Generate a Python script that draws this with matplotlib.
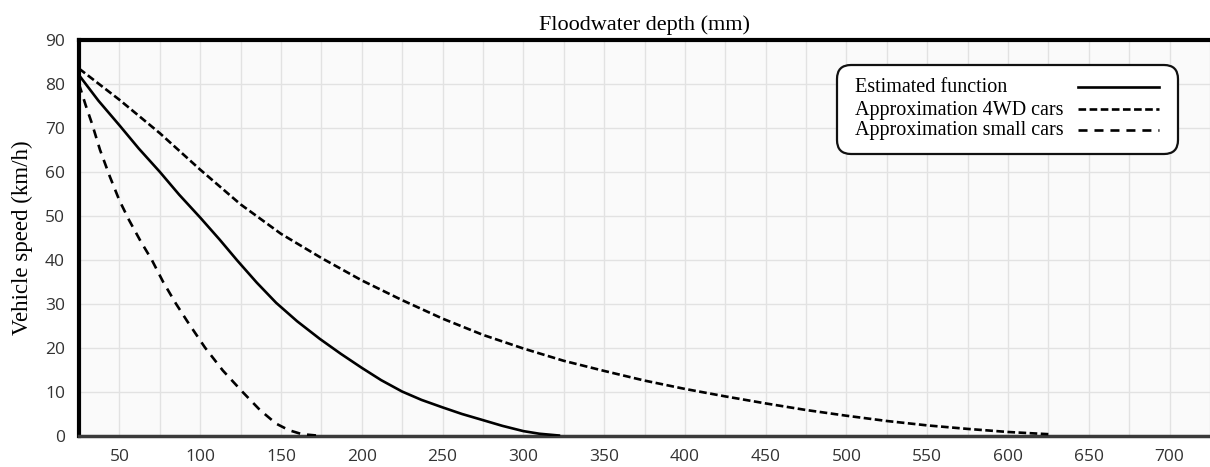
import matplotlib
matplotlib.use("Agg")
import matplotlib.pyplot as plt
from matplotlib.patches import FancyBboxPatch
from matplotlib.lines import Line2D
from matplotlib.ticker import MultipleLocator

plt.rcParams['lines.scale_dashes'] = False

# values
est_x = [25, 37, 50, 62, 75, 87, 100, 112, 123, 135, 147, 160, 174, 187, 200,
         212, 225, 237, 250, 262, 275, 287, 300, 310, 322]
est_y = [82, 76.2, 70.6, 65.3, 60, 54.8, 49.6, 44.6, 39.8, 34.8, 30.2, 26,
         22, 18.6, 15.4, 12.6, 10, 8.1, 6.4, 4.9, 3.5, 2.2, 1, 0.4, 0]

wd_x = [25, 50, 75, 100, 125, 150, 175, 200, 225, 250, 275, 300, 325, 350, 375,
        400, 425, 450, 475, 500, 525, 550, 575, 600, 625]
wd_y = [83.5, 76.4, 68.8, 60.5, 52.6, 45.9, 40.4, 35.3, 30.8, 26.6, 22.9, 19.8,
        17, 14.7, 12.5, 10.6, 8.9, 7.3, 5.8, 4.5, 3.3, 2.3, 1.5, 0.8, 0.3]

small_x = [25, 29, 33, 38, 44, 50, 56, 63, 70, 77, 85, 92, 103, 114, 126, 137,
           147, 155, 163, 172]
small_y = [80, 75.3, 71, 65, 59, 53.5, 49, 44.3, 40, 35, 30, 26, 20, 14.8,
           10, 5.8, 2.7, 1.2, 0.3, 0]

labels = ["Estimated function", "Approximation 4WD cars", "Approximation small cars"]

serif = "Liberation Serif"
sans = "Open Sans"

W, H = 1210, 467
fig = plt.figure(figsize=(W / 100, H / 100), dpi=100)
ax = fig.add_axes([79 / W, 1 - 435.5 / H, 1 - 79 / W, (435.5 - 40) / H])
ax.set_facecolor("#fafafa")

styles = [
    dict(color="black", lw=1.9, ls="-"),
    dict(color="black", lw=1.9, ls=(0, (5.5, 2.5))),
    dict(color="black", lw=1.9, ls=(0, (6.5, 5))),
]
ax.plot(est_x, est_y, **styles[0], zorder=3)
ax.plot(wd_x, wd_y, **styles[1], zorder=3)
ax.plot(small_x, small_y, **styles[2], zorder=3)

ax.set_xlim(25, 725)
ax.set_ylim(0, 90)
ax.xaxis.set_major_locator(MultipleLocator(50))
ax.xaxis.set_minor_locator(MultipleLocator(25))
ax.yaxis.set_major_locator(MultipleLocator(10))
ax.grid(True, which="both", color="#e2e2e2", lw=1.0, zorder=0)
ax.set_axisbelow(True)
ax.set_xticks([t for t in range(50, 701, 50)])
ax.tick_params(which="both", length=0)
ax.tick_params(axis="x", pad=10, labelsize=12.5, labelcolor="#333333")
ax.tick_params(axis="y", pad=10, labelsize=12.5, labelcolor="#333333")
for lab in ax.get_xticklabels() + ax.get_yticklabels():
    lab.set_family(sans)

ax.spines["right"].set_visible(False)
ax.spines["top"].set_linewidth(3)
ax.spines["left"].set_linewidth(3)
ax.spines["bottom"].set_linewidth(2.5)
ax.spines["bottom"].set_color("#3a3a3a")

ax.set_title("Floodwater depth (mm)", family=serif, fontsize=16, pad=7)
ax.set_ylabel("Vehicle speed (km/h)", family=serif, fontsize=16.5, labelpad=9)

# legend box drawn by hand in pixel coordinates: text left, samples right
box = FancyBboxPatch((837, H - 154), 1178 - 837, 154 - 65,
                     boxstyle="round,pad=0,rounding_size=14",
                     transform=None, facecolor="white", edgecolor="#111111",
                     lw=1.6, zorder=5)
fig.patches.append(box)
for lab, st, yy in zip(labels, styles, [88, 110, 131]):
    fig.text(855 / W, 1 - yy / H, lab, family=serif, fontsize=14.5,
             va="center", ha="left", zorder=6)
    fig.add_artist(Line2D([1078 / W, 1159 / W], [1 - (yy - 1) / H] * 2,
                          transform=fig.transFigure, zorder=6, **st))

fig.savefig("out.png", dpi=100)
